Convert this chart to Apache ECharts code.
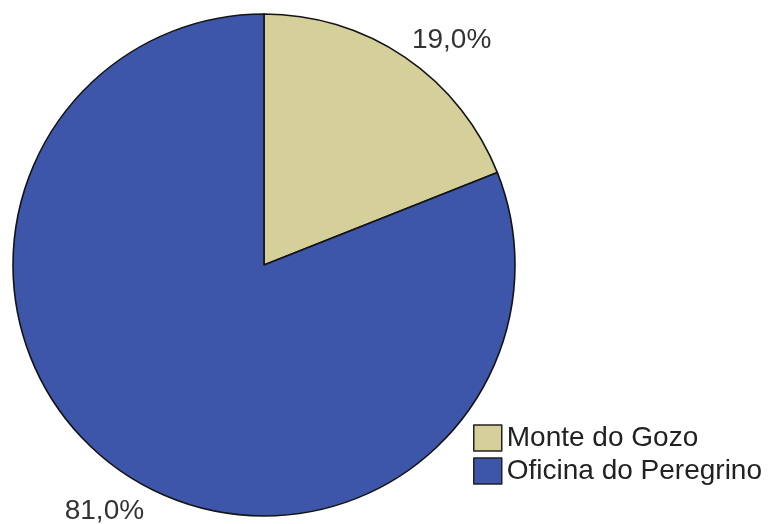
<!DOCTYPE html>
<html>
<head>
<meta charset="utf-8">
<script src="https://cdn.jsdelivr.net/npm/echarts@6/dist/echarts.min.js"></script>
<style>
html,body{margin:0;padding:0;background:#fff;}
#chart{width:776px;height:524px;}
</style>
</head>
<body>
<div id="chart"></div>
<script>
const categories = ['Monte do Gozo', 'Oficina do Peregrino'];
const values = [19.0, 81.0];
const labels = ['19,0%', '81,0%'];
const colors = ['#D5CF9A', '#3D56AA'];

const chart = echarts.init(document.getElementById('chart'), null, {renderer: 'canvas'});
const data = categories.map((c, i) => ({name: c, value: values[i], itemStyle: {color: colors[i]}}));
const labelShift = [[-10, 0], [38, 21]];

chart.setOption({
  animation: false,
  backgroundColor: '#fff',
  legend: {
    orient: 'vertical',
    left: 473,
    top: 424,
    padding: 0,
    icon: 'rect',
    itemWidth: 28,
    itemHeight: 26,
    itemGap: 5,
    data: categories,
    textStyle: {fontFamily: 'Liberation Sans', fontSize: 28, color: '#222'},
    itemStyle: {borderColor: '#222', borderWidth: 1.5}
  },
  series: [{
    type: 'pie',
    center: [264, 265],
    radius: 251,
    startAngle: 90,
    clockwise: true,
    data: data,
    itemStyle: {borderColor: '#141414', borderWidth: 1.6},
    label: {
      show: true,
      position: 'outside',
      formatter: p => labels[p.dataIndex],
      fontFamily: 'Liberation Sans',
      fontSize: 28,
      color: '#333'
    },
    labelLine: {show: false, length: 21, length2: 0},
    labelLayout: p => ({dx: labelShift[p.dataIndex][0], dy: labelShift[p.dataIndex][1]}),
    emphasis: {disabled: true}
  }]
});
</script>
</body>
</html>
